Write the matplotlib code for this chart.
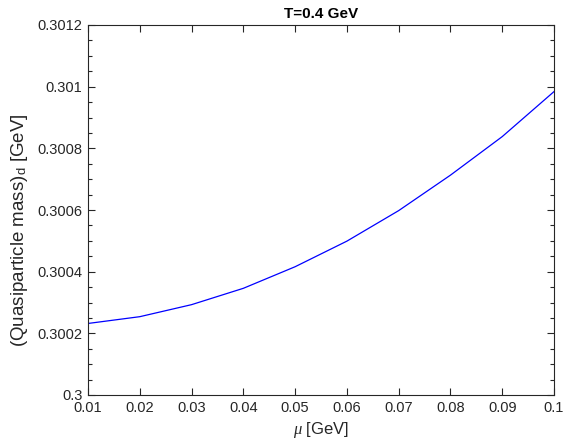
import matplotlib
matplotlib.use("Agg")
import matplotlib.pyplot as plt
from matplotlib.ticker import MultipleLocator

plt.rcParams["font.family"] = ["Liberation Sans", "DejaVu Sans"]
plt.rcParams["mathtext.fontset"] = "custom"
plt.rcParams["mathtext.rm"] = "Liberation Sans"
plt.rcParams["mathtext.it"] = "Liberation Serif:italic"

# chemical potential [GeV] and d-quark quasiparticle mass [GeV] at T = 0.4 GeV
mu = [0.01, 0.02, 0.03, 0.04, 0.05, 0.06, 0.07, 0.08, 0.09, 0.10]
mass_d = [0.300232, 0.300254, 0.300293, 0.300346, 0.300416,
          0.300499, 0.300598, 0.300713, 0.300838, 0.300984]

x_ticks = [0.01, 0.02, 0.03, 0.04, 0.05, 0.06, 0.07, 0.08, 0.09, 0.1]
x_labels = ["0.01", "0.02", "0.03", "0.04", "0.05", "0.06", "0.07", "0.08", "0.09", "0.1"]
y_ticks = [0.3, 0.3002, 0.3004, 0.3006, 0.3008, 0.301, 0.3012]
y_labels = ["0.3", "0.3002", "0.3004", "0.3006", "0.3008", "0.301", "0.3012"]

text_col = "#262626"
axis_col = "#262626"

fig = plt.figure(figsize=(5.7, 4.47), dpi=100)
ax = fig.add_axes([88 / 570, 1 - 395 / 447, (554 - 88) / 570, (395 - 25) / 447])

ax.plot(mu, mass_d, color="#0000ff", linewidth=0.9)

ax.set_xlim(0.01, 0.1)
ax.set_ylim(0.3, 0.3012)
ax.set_xticks(x_ticks)
ax.set_xticklabels(x_labels)
ax.set_yticks(y_ticks)
ax.set_yticklabels(y_labels)
ax.yaxis.set_minor_locator(MultipleLocator(0.00005))

ax.tick_params(which="both", direction="in", top=True, right=True,
               colors=axis_col, labelcolor=text_col, labelsize=10.5, width=0.8)
ax.tick_params(which="major", length=5, pad=4)
ax.tick_params(which="minor", length=3)
for side in ax.spines.values():
    side.set_color(axis_col)
    side.set_linewidth(0.8)

ax.set_title("T=0.4 GeV", fontsize=11, fontweight="bold", color="black", pad=5)
ax.set_xlabel(r"$\mu$ [GeV]", fontsize=12, color=text_col, labelpad=4)
ax.set_ylabel(r"(Quasiparticle mass)$_{\mathrm{d}}$ [GeV]", fontsize=13.5,
              color=text_col)
ax.yaxis.set_label_coords(-0.125, 0.445)

fig.savefig("out.png", dpi=100)
